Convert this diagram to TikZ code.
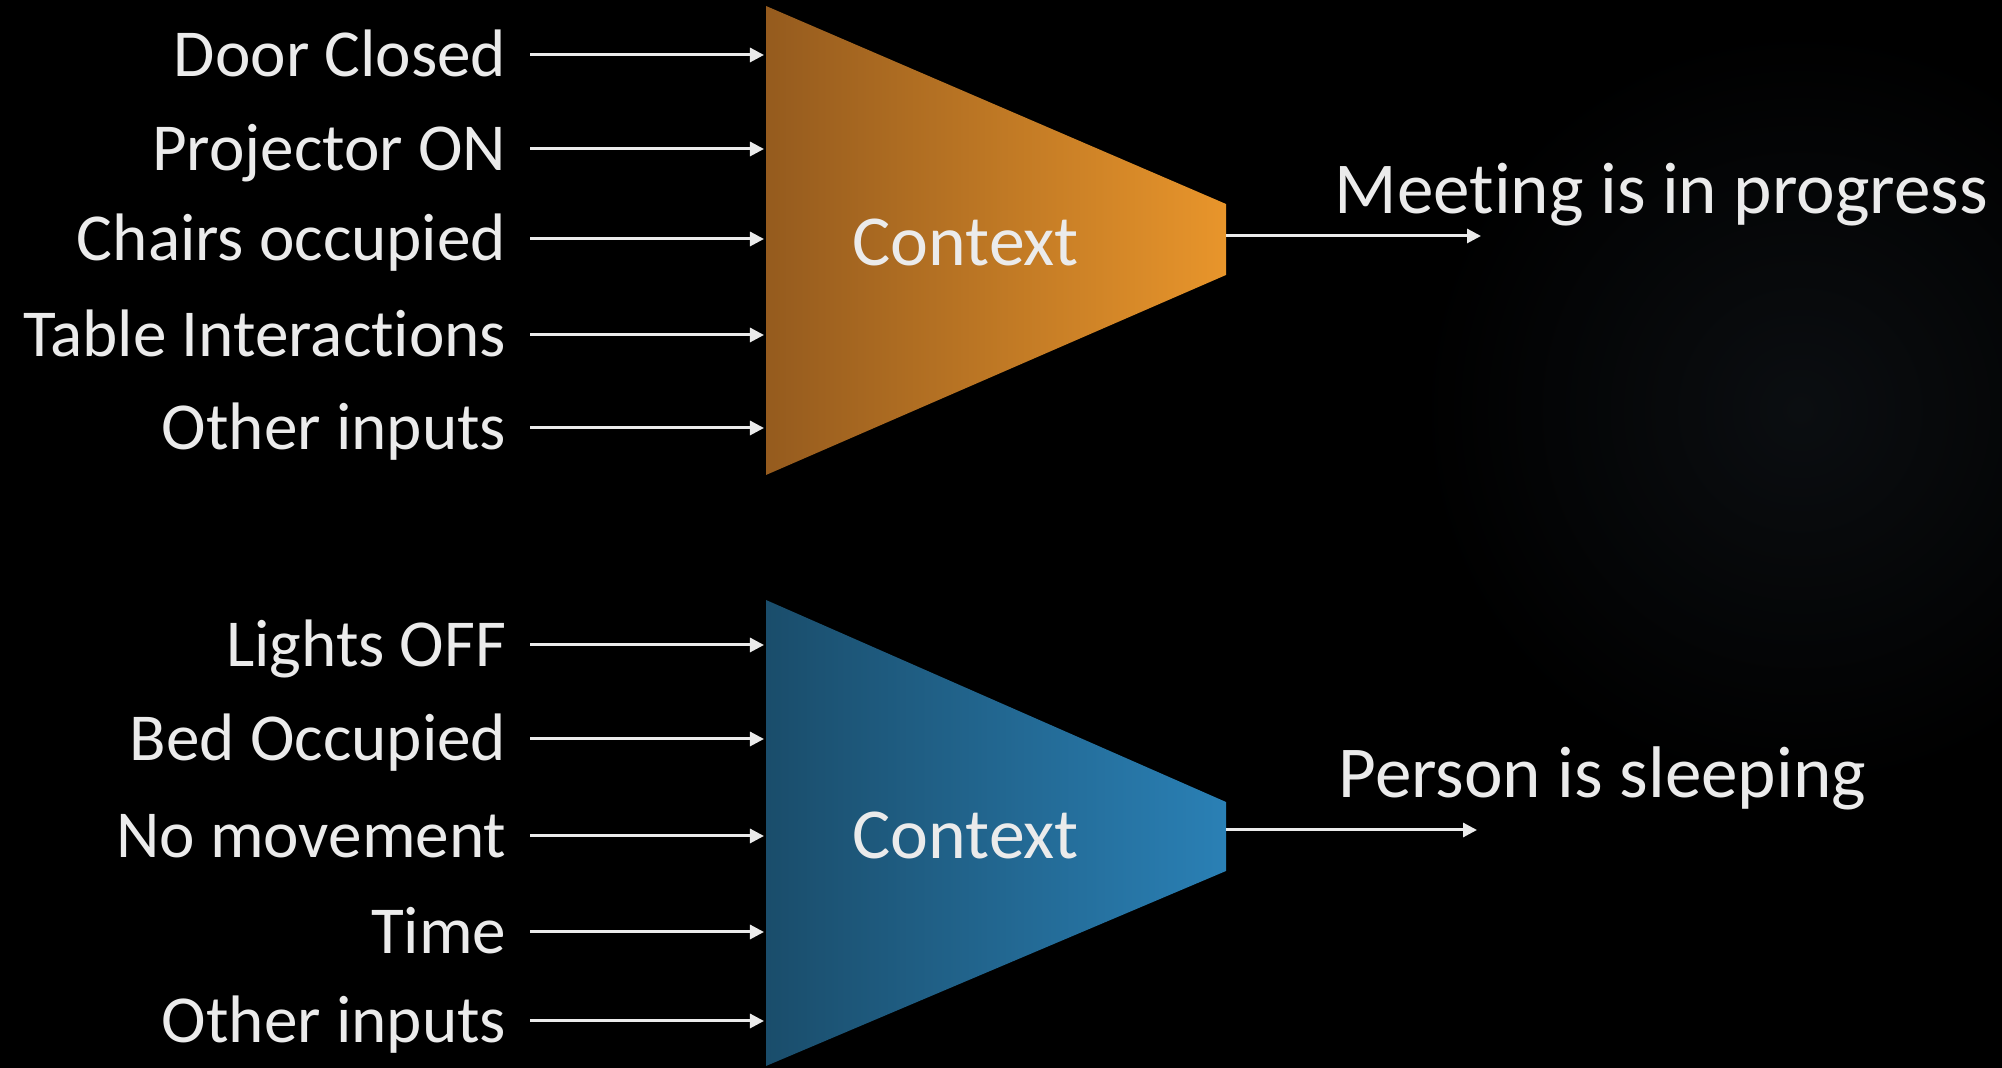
\documentclass[tikz,border=0pt]{standalone}
\usepackage{fontspec}
\setmainfont{Carlito}[Ligatures=NoCommon]
\usetikzlibrary{arrows.meta,calc}
\definecolor{orL}{HTML}{955B1E}
\definecolor{orR}{HTML}{E8952B}
\definecolor{blL}{HTML}{1A4D6B}
\definecolor{blR}{HTML}{2A80B5}
\definecolor{txt}{HTML}{EBEBEB}
\definecolor{glowc}{HTML}{0B0E11}
\begin{document}
\begin{tikzpicture}[x=0.01cm,y=-0.01cm,
  inlbl/.style={text=txt,font=\fontsize{19.1pt}{23pt}\selectfont,anchor=base east,inner sep=0pt},
  outlbl/.style={text=txt,font=\fontsize{20.8pt}{25pt}\selectfont,anchor=base west,inner sep=0pt},
  ctxlbl/.style={text=txt,font=\fontsize{20.4pt}{25pt}\selectfont,anchor=base west,inner sep=0pt},
  arr/.style={draw=txt,line width=0.03cm,-{Triangle[length=0.14cm,width=0.14cm]}}]
% background
\fill[black] (0,0) rectangle (2002,1068);
\useasboundingbox (0,0) rectangle (2002,1068);
\begin{scope}
\clip (0,0) rectangle (2002,1068);
\shade[inner color=glowc,outer color=black] (1800,410) circle (380);
\end{scope}
% top context block
\shade[left color=orL,right color=orR] (766,6) -- (1226,204) -- (1226,275) -- (766,475) -- cycle;
\node[ctxlbl] (ctxA) at (852,266) {Context};
% bottom context block
\shade[left color=blL,right color=blR] (766,600) -- (1226,802) -- (1226,871) -- (766,1066) -- cycle;
\node[ctxlbl] (ctxB) at (852,859) {Context};
% top inputs
\foreach \i/\yy/\t in {1/55/Door Closed,2/149/Projector ON,3/239/Chairs occupied,4/335/Table Interactions,5/428/Other inputs}{
  \node[inlbl] (a\i) at (507,\yy+22) {\t};
  \coordinate (as\i) at (530,\yy);
  \coordinate (ae\i) at (764,\yy);
  \draw[arr] (as\i) -- (ae\i);
}
% bottom inputs
\foreach \i/\yy/\t in {1/645/Lights OFF,2/739/Bed Occupied,3/836/No movement,4/932/Time,5/1021/Other inputs}{
  \node[inlbl] (b\i) at (507,\yy+22) {\t};
  \coordinate (bs\i) at (530,\yy);
  \coordinate (be\i) at (764,\yy);
  \draw[arr] (bs\i) -- (be\i);
}
% outputs
\coordinate (oAs) at (1226,236);
\coordinate (oAe) at (1481,236);
\draw[arr] (oAs) -- (oAe);
\node[outlbl] (outA) at (1334,214) {Meeting is in progress};
\coordinate (oBs) at (1226,830);
\coordinate (oBe) at (1477,830);
\draw[arr] (oBs) -- (oBe);
\node[outlbl] (outB) at (1338,798) {Person is sleeping};
\end{tikzpicture}
\end{document}
